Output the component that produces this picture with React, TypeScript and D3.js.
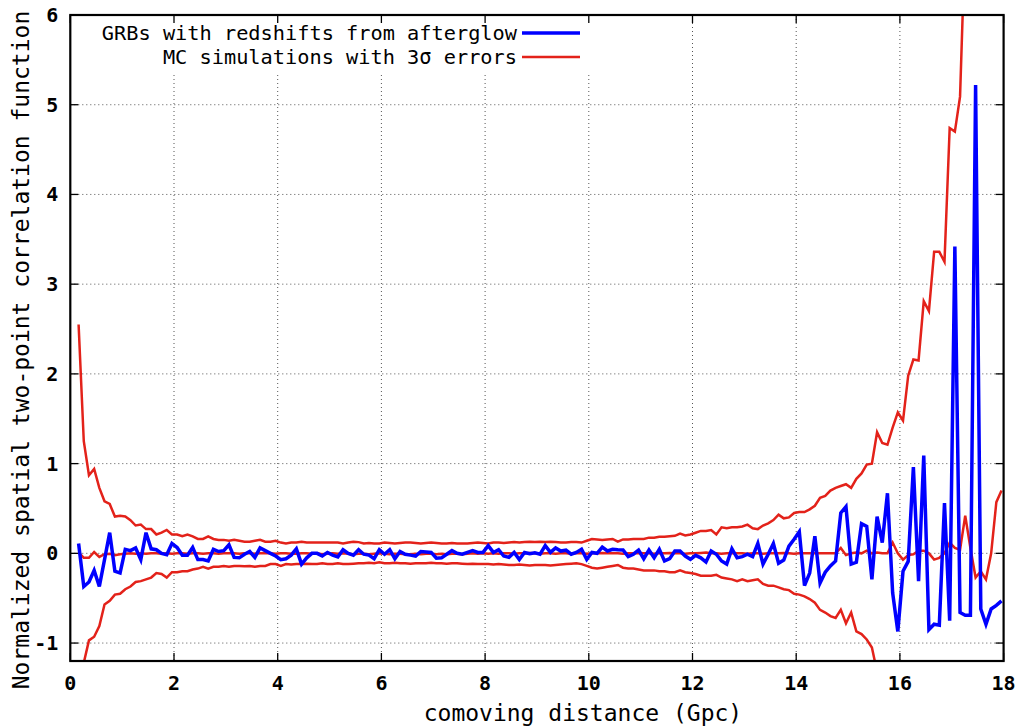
import React from "react";
import * as d3 from "d3";

// x positions: bin centres, 0.1 Gpc apart
const X_START = 0.16;
const X_STEP = 0.1;

const grbValues: number[] = [
  0.11, -0.37, -0.32, -0.19, -0.37, -0.07, 0.23, -0.20, -0.22, 0.045,
  0.03, 0.06, -0.07, 0.23, 0.05, 0.04, 0.0, -0.015, 0.11, 0.065,
  -0.02, -0.02, 0.065, -0.07, -0.07, -0.085, 0.045, 0.02, 0.03, 0.095,
  -0.045, -0.05, -0.01, 0.02, -0.045, 0.06, 0.03, 0.0, -0.03, -0.07,
  -0.06, -0.02, 0.05, -0.12, -0.05, 0.0, 0.0, -0.03, 0.01, -0.02,
  -0.04, 0.04, 0.0, -0.02, 0.04, -0.01, -0.02, -0.06, 0.04, -0.01,
  0.04, -0.06, 0.02, -0.01, -0.02, -0.03, 0.02, 0.015, 0.01, -0.055,
  -0.05, -0.01, 0.03, 0.0, -0.01, 0.01, 0.03, 0.01, 0.01, 0.085,
  0.01, 0.04, -0.03, -0.045, 0.01, -0.07, 0.01, -0.005, 0.007, -0.01,
  0.085, 0.01, 0.06, 0.025, 0.035, -0.01, 0.01, 0.045, -0.067, 0.01,
  0.0, 0.07, 0.026, 0.045, 0.04, 0.037, -0.037, -0.01, 0.037, -0.06,
  0.037, -0.05, 0.045, -0.085, -0.06, 0.026, 0.026, -0.03, -0.067, -0.022,
  -0.05, -0.097, 0.026, -0.01, -0.085, -0.12, 0.052, -0.05, -0.037, -0.01,
  -0.037, 0.11, -0.12, -0.01, 0.11, -0.11, -0.075, 0.08, 0.156, 0.24,
  -0.36, -0.22, 0.19, -0.33, -0.21, -0.14, -0.085, 0.45, 0.52, -0.12,
  -0.10, 0.33, 0.30, -0.29, 0.41, 0.12, 0.67, -0.44, -0.87, -0.20,
  -0.09, 0.96, -0.31, 1.09, -0.85, -0.79, -0.80, 0.56, -0.75, 3.42,
  -0.66, -0.69, -0.69, 5.22, -0.62, -0.79, -0.62, -0.58, -0.53,
];

const mcUpper: number[] = [
  2.55, 1.25, 0.87, 0.94, 0.73, 0.58, 0.55, 0.41, 0.42, 0.41,
  0.37, 0.31, 0.32, 0.27, 0.27, 0.21, 0.23, 0.26, 0.21, 0.21,
  0.19, 0.21, 0.19, 0.16, 0.16, 0.19, 0.16, 0.15, 0.15, 0.14,
  0.15, 0.14, 0.13, 0.13, 0.14, 0.15, 0.13, 0.13, 0.14, 0.12,
  0.11, 0.12, 0.12, 0.13, 0.12, 0.12, 0.12, 0.12, 0.12, 0.12,
  0.12, 0.11, 0.12, 0.13, 0.125, 0.11, 0.115, 0.11, 0.11, 0.12,
  0.115, 0.11, 0.115, 0.12, 0.12, 0.115, 0.11, 0.115, 0.12, 0.115,
  0.11, 0.11, 0.115, 0.11, 0.11, 0.11, 0.115, 0.12, 0.115, 0.11,
  0.12, 0.12, 0.115, 0.12, 0.125, 0.12, 0.125, 0.13, 0.125, 0.13,
  0.125, 0.13, 0.126, 0.12, 0.12, 0.125, 0.125, 0.12, 0.14, 0.16,
  0.155, 0.15, 0.155, 0.16, 0.13, 0.155, 0.155, 0.16, 0.16, 0.16,
  0.175, 0.175, 0.185, 0.185, 0.19, 0.195, 0.22, 0.20, 0.21, 0.23,
  0.25, 0.25, 0.26, 0.21, 0.29, 0.28, 0.29, 0.29, 0.30, 0.32,
  0.28, 0.27, 0.31, 0.335, 0.37, 0.43, 0.39, 0.40, 0.45, 0.46,
  0.46, 0.49, 0.53, 0.62, 0.64, 0.70, 0.73, 0.75, 0.77, 0.73,
  0.83, 0.89, 0.99, 1.00, 1.35, 1.23, 1.21, 1.40, 1.57, 1.48,
  1.98, 2.16, 2.15, 2.81, 2.70, 3.36, 3.36, 3.25, 4.74, 4.70,
  5.09, 6.9, 7.5, 8.2, 9.0, 9.4, 10.1, 10.8, 11.5,
];

const mcMean: number[] = [
  0.01, -0.05, -0.05, 0.015, -0.04, -0.01, -0.005, -0.02, -0.01, -0.005,
  0.0, -0.005, 0.0, -0.005, 0.0, 0.0, -0.005, 0.0, -0.005, 0.0,
  0.0, -0.005, 0.0, 0.0, -0.005, 0.0, 0.0, -0.005, 0.0, 0.0,
  0.0, -0.005, 0.0, 0.0, -0.005, 0.0, 0.005, 0.0, -0.005, 0.0,
  0.0, -0.005, -0.005, 0.0, 0.0, -0.005, 0.0, -0.01, -0.005, 0.0,
  -0.005, 0.0, -0.005, -0.01, -0.005, -0.005, -0.01, -0.005, 0.0, -0.005,
  -0.01, -0.005, -0.005, -0.01, -0.01, -0.005, -0.01, -0.005, -0.005, -0.01,
  -0.005, -0.01, -0.005, -0.005, -0.01, -0.005, 0.0, -0.005, 0.0, -0.005,
  0.0, -0.005, 0.0, 0.0, -0.005, 0.0, 0.0, 0.005, 0.0, -0.005,
  0.0, 0.0, -0.005, 0.0, 0.0, -0.005, 0.0, 0.0, -0.005, 0.0,
  0.0, 0.005, 0.0, 0.0, 0.0, -0.005, 0.0, 0.0, 0.005, 0.0,
  0.0, -0.005, 0.0, 0.0, 0.005, 0.0, 0.0, -0.005, 0.0, 0.0,
  0.005, 0.01, 0.0, 0.0, -0.005, 0.0, 0.005, 0.0, 0.0, -0.005,
  0.0, 0.0, -0.005, 0.0, 0.0, 0.0, 0.005, 0.0, -0.005, 0.0,
  0.0, 0.0, 0.0, 0.0, 0.0, 0.0, 0.0, 0.06, -0.02, 0.0,
  0.01, 0.0, 0.03, 0.0, 0.01, 0.0, 0.0, 0.12, 0.0, -0.07,
  -0.02, -0.01, 0.03, 0.03, 0.0, -0.07, -0.05, 0.0, 0.12, 0.06,
  0.04, 0.42, 0.06, -0.27, -0.2, -0.29, 0.0, 0.57, 0.70,
];

const mcLower: number[] = [
  -2.55, -1.22, -0.97, -0.93, -0.81, -0.57, -0.53, -0.46, -0.45, -0.40,
  -0.37, -0.32, -0.31, -0.29, -0.27, -0.22, -0.23, -0.27, -0.21, -0.21,
  -0.20, -0.20, -0.18, -0.17, -0.15, -0.17, -0.15, -0.15, -0.14, -0.15,
  -0.14, -0.14, -0.145, -0.14, -0.15, -0.14, -0.14, -0.12, -0.12, -0.14,
  -0.12, -0.125, -0.12, -0.12, -0.115, -0.12, -0.12, -0.11, -0.12, -0.12,
  -0.11, -0.12, -0.12, -0.115, -0.11, -0.11, -0.105, -0.11, -0.10, -0.11,
  -0.11, -0.105, -0.11, -0.11, -0.115, -0.11, -0.11, -0.11, -0.105, -0.11,
  -0.11, -0.115, -0.11, -0.11, -0.115, -0.12, -0.115, -0.12, -0.12, -0.12,
  -0.125, -0.12, -0.125, -0.13, -0.13, -0.125, -0.13, -0.135, -0.13, -0.13,
  -0.13, -0.135, -0.13, -0.125, -0.12, -0.115, -0.11, -0.12, -0.14, -0.16,
  -0.17, -0.16, -0.15, -0.14, -0.13, -0.16, -0.17, -0.17, -0.18, -0.19,
  -0.19, -0.19, -0.20, -0.20, -0.21, -0.21, -0.19, -0.21, -0.22, -0.23,
  -0.25, -0.25, -0.25, -0.24, -0.27, -0.28, -0.29, -0.31, -0.29, -0.31,
  -0.30, -0.29, -0.34, -0.36, -0.36, -0.38, -0.40, -0.41, -0.45, -0.46,
  -0.48, -0.51, -0.55, -0.63, -0.66, -0.70, -0.72, -0.63, -0.78, -0.66,
  -0.87, -0.90, -0.96, -1.05, -1.32, -1.4, -1.5, -1.6, -1.75, -1.7,
  -2.1, -2.3, -2.3, -2.9, -2.8, -3.4, -3.4, -3.3, -4.8, -4.7,
  -5.1, -6.9, -7.5, -8.2, -9.0, -9.4, -10.1, -10.8, -11.5,
];

const xTicks: number[] = [0, 2, 4, 6, 8, 10, 12, 14, 16, 18];
const yTicks: number[] = [-1, 0, 1, 2, 3, 4, 5, 6];

const legendLabels = {
  grb: "GRBs with redshifts from afterglow",
  mc: "MC simulations with 3σ errors",
};
const xTitle = "comoving distance (Gpc)";
const yTitle = "Normalized spatial two-point correlation function";

const W = 1020;
const H = 726;
const L = 70.3;
const R = 1003.6;
const T = 15;
const B = 661;

const BLUE = "#0000ff";
const RED = "#e3221a";
const FONT = "'DejaVu Sans Mono', 'Liberation Mono', monospace";

export default function App() {
  const x = d3.scaleLinear().domain([0, 18]).range([L, R]);
  const y = d3.scaleLinear().domain([-1.2, 6]).range([B, T]);

  const xOf = (i: number) => x(X_START + X_STEP * i);
  const line = d3
    .line<number>()
    .x((_, i) => xOf(i))
    .y((v) => y(v));

  const tickLen = 8;

  return (
    <svg
      width={W}
      height={H}
      style={{ position: "absolute", left: 0, top: 0, background: "#fff" }}
      fontFamily={FONT}
    >
      <defs>
        <clipPath id="plotClip">
          <rect x={L} y={T} width={R - L} height={B - T} />
        </clipPath>
      </defs>
      <rect x={0} y={0} width={W} height={H} fill="#fff" />

      {/* grid */}
      <g stroke="#555" strokeWidth={1} strokeDasharray="1,3">
        {xTicks.slice(1, -1).map((t) => (
          <line key={"gx" + t} x1={x(t)} x2={x(t)} y1={T} y2={B} />
        ))}
        {yTicks.slice(0, -1).map((t) => (
          <line key={"gy" + t} x1={L} x2={R} y1={y(t)} y2={y(t)} />
        ))}
      </g>

      {/* legend background (opaque key) */}
      <rect x={90} y={18} width={502} height={54} fill="#fff" />

      {/* ticks */}
      <g stroke="#000" strokeWidth={1.3}>
        {xTicks.map((t) => (
          <g key={"tx" + t}>
            <line x1={x(t)} x2={x(t)} y1={B} y2={B - tickLen} />
            <line x1={x(t)} x2={x(t)} y1={T} y2={T + tickLen} />
          </g>
        ))}
        {yTicks.map((t) => (
          <g key={"ty" + t}>
            <line x1={L} x2={L + tickLen} y1={y(t)} y2={y(t)} />
            <line x1={R} x2={R - tickLen} y1={y(t)} y2={y(t)} />
          </g>
        ))}
      </g>

      {/* data */}
      <g clipPath="url(#plotClip)" fill="none" strokeLinejoin="miter">
        <path d={line(mcUpper) || ""} stroke={RED} strokeWidth={2.5} />
        <path d={line(mcMean) || ""} stroke={RED} strokeWidth={2.5} />
        <path d={line(mcLower) || ""} stroke={RED} strokeWidth={2.5} />
        <path d={line(grbValues) || ""} stroke={BLUE} strokeWidth={3.5} />
      </g>

      {/* frame */}
      <rect x={L} y={T} width={R - L} height={B - T} fill="none" stroke="#000" strokeWidth={2.2} />

      {/* tick labels */}
      <g fontSize={20} fill="#000" fontWeight="bold">
        {xTicks.map((t) => (
          <text key={"lx" + t} x={x(t)} y={B + 29} textAnchor="middle">
            {String(t)}
          </text>
        ))}
        {yTicks.map((t) => (
          <text key={"ly" + t} x={L - 12} y={y(t) + 7} textAnchor="end">
            {String(t)}
          </text>
        ))}
      </g>

      {/* axis titles */}
      <text x={(L + R) / 2 + 46} y={H - 5} textAnchor="middle" fontSize={23}>
        {xTitle}
      </text>
      <text
        transform={`translate(29, ${(T + B) / 2 + 12}) rotate(-90)`}
        textAnchor="middle"
        fontSize={23}
      >
        {yTitle}
      </text>

      {/* legend */}
      <g fontSize={20.3}>
        <text x={517} y={40} textAnchor="end">{legendLabels.grb}</text>
        <line x1={522} x2={580} y1={33} y2={33} stroke={BLUE} strokeWidth={3.5} />
        <text x={517} y={64} textAnchor="end">{legendLabels.mc}</text>
        <line x1={522} x2={580} y1={57} y2={57} stroke={RED} strokeWidth={2.5} />
      </g>
    </svg>
  );
}
